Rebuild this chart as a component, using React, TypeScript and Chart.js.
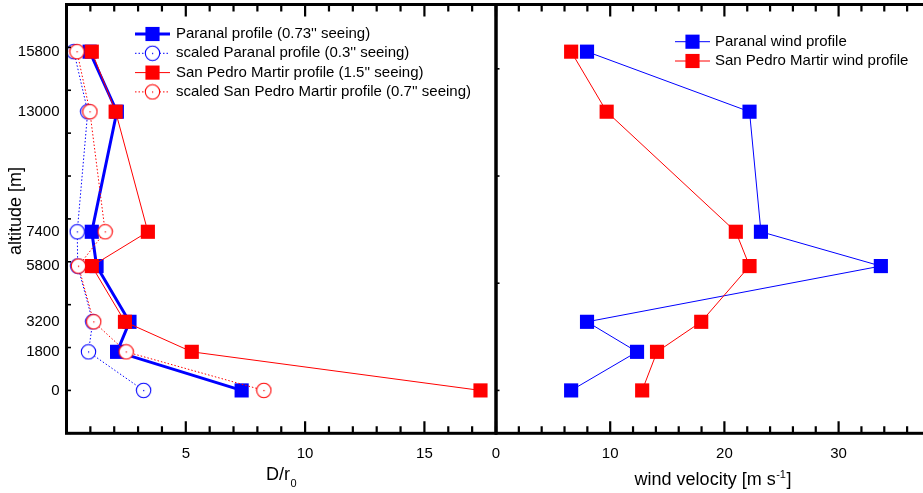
import React, { useEffect, useRef } from "react";
import { Chart, registerables } from "chart.js";

Chart.register(...registerables);

// ---------- data ----------
const altitudes = [15800, 13000, 7400, 5800, 3200, 1800, 0];
const altitudeTicks = [0, 1800, 3200, 5800, 7400, 13000, 15800];

const paranalDr0 = [0.97, 2.11, 1.06, 1.26, 2.64, 2.12, 7.34];
const scaledParanalDr0 = [0.31, 0.89, 0.45, 0.47, 1.1, 0.92, 3.23];
const spmDr0 = [1.06, 2.06, 3.41, 1.06, 2.45, 5.25, 17.35];
const scaledSpmDr0 = [0.44, 0.98, 1.62, 0.5, 1.14, 2.5, 8.27];

const paranalWind = [7.97, 22.2, 23.2, 33.7, 7.97, 12.35, 6.58];
const spmWind = [6.58, 9.69, 21.0, 22.2, 17.97, 14.1, 12.8];

const leftXTicks = [5, 10, 15];
const rightXTicks = [0, 10, 20, 30];

const leftLabels = [
  "Paranal profile (0.73'' seeing)",
  "scaled Paranal profile (0.3'' seeing)",
  "San Pedro Martir profile (1.5'' seeing)",
  "scaled San Pedro Martir profile (0.7'' seeing)",
];
const rightLabels = ["Paranal wind profile", "San Pedro Martir wind profile"];

const xTitleLeft = "D/r";
const xTitleLeftSub = "0";
const xTitleRight = "wind velocity [m s";
const xTitleRightSup = "-1";
const xTitleRightEnd = "]";
const yTitle = "altitude [m]";

const BLUE = "#0000ff";
const RED = "#ff0000";
const FONT = "'Liberation Sans', Arial, Helvetica, sans-serif";

function circleMarker(color: string) {
  const c = document.createElement("canvas");
  c.width = 17;
  c.height = 17;
  const g = c.getContext("2d")!;
  g.beginPath();
  g.arc(8.5, 8.5, 7.2, 0, Math.PI * 2);
  g.fillStyle = "#fff";
  g.fill();
  g.lineWidth = 1.1;
  g.strokeStyle = color;
  g.stroke();
  g.fillStyle = color;
  g.fillRect(8, 8, 1.2, 1.2);
  return c;
}

function pts(xs: number[]) {
  return altitudes.map((a, i) => ({ x: xs[i], y: a }));
}

function zeroPad(s: any) {
  s.paddingTop = 0;
  s.paddingBottom = 0;
  s.paddingLeft = 0;
  s.paddingRight = 0;
}

const framePlugin = {
  id: "frame",
  afterDraw(chart: any, _args: any, opts: any) {
    const { ctx, chartArea } = chart;
    const { left, right, top, bottom } = chartArea;
    const xs = chart.scales.x;
    const ys = chart.scales.y;
    ctx.save();
    ctx.strokeStyle = "#000";
    ctx.lineCap = "butt";
    ctx.lineWidth = 2.2;
    const x0 = Math.ceil(xs.min / opts.xMinor) * opts.xMinor;
    for (let v = x0; v <= xs.max + 1e-9; v += opts.xMinor) {
      const px = xs.getPixelForValue(v);
      const r = v / opts.xMajor;
      const major = Math.abs(r - Math.round(r)) < 1e-6;
      const len = major ? 12 : 7;
      ctx.beginPath();
      ctx.moveTo(px, bottom);
      ctx.lineTo(px, bottom - len);
      ctx.moveTo(px, top);
      ctx.lineTo(px, top + len);
      ctx.stroke();
    }
    ctx.lineWidth = 1.6;
    const y0 = Math.ceil(ys.min / opts.yMinor) * opts.yMinor;
    for (let v = y0; v <= ys.max + 1e-9; v += opts.yMinor) {
      const py = ys.getPixelForValue(v);
      ctx.beginPath();
      ctx.moveTo(left, py);
      ctx.lineTo(left + opts.yLen, py);
      ctx.stroke();
    }
    ctx.lineWidth = 3;
    ctx.strokeRect(left, top, right - left, bottom - top);
    ctx.restore();
  },
};

function drawLegend(ctx: any, chart: any, labels: string[], rows: number[], x0: number, x1: number, tx: number) {
  ctx.save();
  ctx.font = `15px ${FONT}`;
  ctx.textBaseline = "middle";
  ctx.textAlign = "left";
  labels.forEach((lab, i) => {
    const ds = chart.data.datasets[i];
    const y = rows[i];
    ctx.strokeStyle = ds.borderColor;
    ctx.lineWidth = ds.borderWidth;
    ctx.setLineDash(ds.borderDash || []);
    ctx.beginPath();
    ctx.moveTo(x0, y);
    ctx.lineTo(x1, y);
    ctx.stroke();
    ctx.setLineDash([]);
    const mx = (x0 + x1) / 2;
    if (ds.pointStyle === "rect") {
      const s = ds.pointRadius * Math.SQRT1_2;
      ctx.fillStyle = ds.pointBackgroundColor;
      ctx.fillRect(mx - s, y - s, 2 * s, 2 * s);
    } else {
      const img = ds.pointStyle;
      ctx.drawImage(img, mx - img.width / 2, y - img.height / 2);
    }
    ctx.fillStyle = "#000";
    ctx.fillText(lab, tx, y);
  });
  ctx.restore();
}

const leftDecor = {
  id: "leftDecor",
  afterDraw(chart: any) {
    const ctx = chart.ctx;
    drawLegend(ctx, chart, leftLabels, [34, 53.3, 72.6, 91.9], 135, 170, 176);
    ctx.save();
    ctx.fillStyle = "#000";
    ctx.font = `18px ${FONT}`;
    ctx.textAlign = "center";
    ctx.textBaseline = "alphabetic";
    ctx.translate(21, 211);
    ctx.rotate(-Math.PI / 2);
    ctx.fillText(yTitle, 0, 0);
    ctx.restore();
    ctx.save();
    ctx.fillStyle = "#000";
    ctx.textBaseline = "alphabetic";
    ctx.textAlign = "left";
    ctx.font = `18px ${FONT}`;
    const w1 = ctx.measureText(xTitleLeft).width;
    ctx.font = `11px ${FONT}`;
    const w2 = ctx.measureText(xTitleLeftSub).width;
    const sx = 281 - (w1 + w2) / 2;
    ctx.font = `18px ${FONT}`;
    ctx.fillText(xTitleLeft, sx, 480);
    ctx.font = `11px ${FONT}`;
    ctx.fillText(xTitleLeftSub, sx + w1 + 0.5, 487);
    ctx.restore();
  },
};

const rightDecor = {
  id: "rightDecor",
  afterDraw(chart: any) {
    const ctx = chart.ctx;
    const off = 480;
    drawLegend(ctx, chart, rightLabels, [41.7, 61], 675 - off, 710 - off, 715 - off);
    ctx.save();
    ctx.fillStyle = "#000";
    ctx.textBaseline = "alphabetic";
    ctx.textAlign = "left";
    ctx.font = `18px ${FONT}`;
    const w1 = ctx.measureText(xTitleRight).width;
    const w3 = ctx.measureText(xTitleRightEnd).width;
    ctx.font = `11px ${FONT}`;
    const w2 = ctx.measureText(xTitleRightSup).width;
    const total = w1 + w2 + w3 + 1;
    const sx = 713 - off - total / 2;
    ctx.font = `18px ${FONT}`;
    ctx.fillText(xTitleRight, sx, 485);
    ctx.font = `11px ${FONT}`;
    ctx.fillText(xTitleRightSup, sx + w1 + 0.5, 478);
    ctx.font = `18px ${FONT}`;
    ctx.fillText(xTitleRightEnd, sx + w1 + w2 + 1, 485);
    ctx.restore();
  },
};

const tickFont = { family: FONT, size: 15 };
const CANVAS_H = 493;
const AXIS_TOP = 4.5;
const AXIS_BOTTOM = 433.3;

export default function App() {
  const leftRef = useRef<HTMLCanvasElement>(null);
  const rightRef = useRef<HTMLCanvasElement>(null);

  useEffect(() => {
    const openBlue = circleMarker(BLUE);
    const openRed = circleMarker(RED);

    const left = new Chart(leftRef.current!, {
      type: "line",
      data: {
        datasets: [
          {
            label: leftLabels[0],
            data: pts(paranalDr0),
            borderColor: BLUE,
            backgroundColor: BLUE,
            borderWidth: 3,
            pointStyle: "rect",
            pointRadius: 10,
            pointBorderWidth: 0,
            pointBackgroundColor: BLUE,
            order: 4,
            clip: false,
          },
          {
            label: leftLabels[1],
            data: pts(scaledParanalDr0),
            borderColor: BLUE,
            backgroundColor: BLUE,
            borderWidth: 1,
            borderDash: [1.5, 2],
            pointStyle: openBlue,
            pointRadius: 8,
            order: 3,
            clip: false,
          },
          {
            label: leftLabels[2],
            data: pts(spmDr0),
            borderColor: RED,
            backgroundColor: RED,
            borderWidth: 1,
            pointStyle: "rect",
            pointRadius: 10,
            pointBorderWidth: 0,
            pointBackgroundColor: RED,
            order: 2,
            clip: false,
          },
          {
            label: leftLabels[3],
            data: pts(scaledSpmDr0),
            borderColor: RED,
            backgroundColor: RED,
            borderWidth: 1,
            borderDash: [1.5, 2],
            pointStyle: openRed,
            pointRadius: 8,
            order: 1,
            clip: false,
          },
        ] as any,
      },
      options: {
        animation: false,
        responsive: false,
        maintainAspectRatio: false,
        events: [],
        layout: { autoPadding: false, padding: { top: AXIS_TOP, left: 0, right: 4, bottom: 0 } },
        plugins: {
          legend: { display: false },
          tooltip: { enabled: false },
          frame: { xMinor: 1, xMajor: 5, yMinor: 2000, yLen: 4.5 },
        } as any,
        scales: {
          x: {
            type: "linear",
            min: 0,
            max: 18,
            afterBuildTicks: (s: any) => {
              s.ticks = leftXTicks.map((v) => ({ value: v }));
            },
            afterFit: (s: any) => {
              s.height = CANVAS_H - AXIS_BOTTOM;
              zeroPad(s);
            },
            grid: { display: false, drawTicks: false },
            border: { display: false },
            ticks: {
              font: tickFont,
              color: "#000",
              padding: 12,
              maxRotation: 0,
              autoSkip: false,
              callback: (v: any) => String(v),
            },
          },
          y: {
            type: "linear",
            min: -2000,
            max: 18000,
            afterFit: (s: any) => {
              s.width = 66.5;
              zeroPad(s);
            },
            afterBuildTicks: (s: any) => {
              s.ticks = altitudeTicks.map((v) => ({ value: v }));
            },
            grid: { display: false, drawTicks: false },
            border: { display: false },
            ticks: {
              font: tickFont,
              color: "#000",
              padding: 7,
              autoSkip: false,
              callback: (v: any) => String(v),
            },
          },
        } as any,
      },
      plugins: [framePlugin, leftDecor],
    });

    const right = new Chart(rightRef.current!, {
      type: "line",
      data: {
        datasets: [
          {
            label: rightLabels[0],
            data: pts(paranalWind),
            borderColor: BLUE,
            backgroundColor: BLUE,
            borderWidth: 1,
            pointStyle: "rect",
            pointRadius: 10,
            pointBorderWidth: 0,
            pointBackgroundColor: BLUE,
            order: 2,
            clip: false,
          },
          {
            label: rightLabels[1],
            data: pts(spmWind),
            borderColor: RED,
            backgroundColor: RED,
            borderWidth: 1,
            pointStyle: "rect",
            pointRadius: 10,
            pointBorderWidth: 0,
            pointBackgroundColor: RED,
            order: 1,
            clip: false,
          },
        ] as any,
      },
      options: {
        animation: false,
        responsive: false,
        maintainAspectRatio: false,
        events: [],
        layout: { autoPadding: false, padding: { top: AXIS_TOP, left: 16, right: 7.2, bottom: 0 } },
        plugins: {
          legend: { display: false },
          tooltip: { enabled: false },
          frame: { xMinor: 2, xMajor: 10, yMinor: 5000, yLen: 3.5 },
        } as any,
        scales: {
          x: {
            type: "linear",
            min: 0,
            max: 40,
            afterBuildTicks: (s: any) => {
              s.ticks = rightXTicks.map((v) => ({ value: v }));
            },
            afterFit: (s: any) => {
              s.height = CANVAS_H - AXIS_BOTTOM;
              zeroPad(s);
            },
            grid: { display: false, drawTicks: false },
            border: { display: false },
            ticks: {
              font: tickFont,
              color: "#000",
              padding: 12,
              maxRotation: 0,
              autoSkip: false,
              callback: (v: any) => String(v),
            },
          },
          y: {
            type: "linear",
            display: false,
            min: -2000,
            max: 18000,
          },
        } as any,
      },
      plugins: [framePlugin, rightDecor],
    });

    return () => {
      left.destroy();
      right.destroy();
    };
  }, []);

  return (
    <div
      style={{
        position: "absolute",
        left: 0,
        top: 0,
        width: 923,
        height: 493,
        overflow: "hidden",
        background: "#fff",
      }}
    >
      <canvas
        ref={leftRef}
        width={500}
        height={CANVAS_H}
        style={{ position: "absolute", left: 0, top: 0, width: 500, height: CANVAS_H }}
      />
      <canvas
        ref={rightRef}
        width={480}
        height={CANVAS_H}
        style={{ position: "absolute", left: 480, top: 0, width: 480, height: CANVAS_H }}
      />
    </div>
  );
}
